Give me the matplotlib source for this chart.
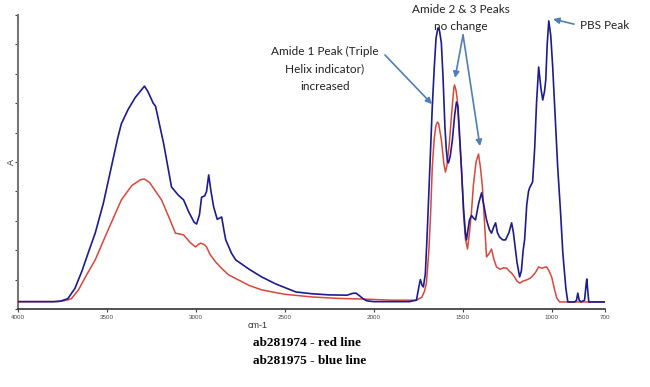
import matplotlib
matplotlib.use("Agg")
import matplotlib.pyplot as plt

# ---- data (wavenumber cm-1, absorbance normalized) ----
blue_x = [4000, 3800, 3760, 3720, 3680, 3640, 3600, 3566, 3520, 3480, 3440, 3419, 3380, 3340,
          3300, 3289, 3270, 3240, 3227, 3182, 3137, 3100, 3069, 3040, 3010, 2996, 2980, 2968,
          2950, 2940, 2928, 2915, 2900, 2880, 2865, 2855, 2840, 2832, 2800, 2776, 2700, 2630,
          2550, 2438, 2350, 2252, 2150, 2120, 2100, 2080, 2060, 2040, 2000, 1800, 1760, 1745,
          1738, 1728, 1721, 1710, 1700, 1690, 1680, 1671, 1660, 1650, 1640, 1637, 1630, 1620,
          1610, 1600, 1592, 1585, 1580, 1570, 1558, 1545, 1535, 1527, 1518, 1505, 1495, 1485,
          1479, 1470, 1462, 1450, 1440, 1428, 1410, 1394, 1380, 1366, 1350, 1338, 1325, 1315,
          1305, 1293, 1275, 1259, 1240, 1225, 1215, 1208, 1195, 1180, 1170, 1160, 1152, 1140,
          1130, 1124, 1107, 1095, 1085, 1073, 1060, 1050, 1040, 1033, 1025, 1016, 1005, 994,
          980, 966, 950, 937, 920, 909, 870, 860, 853, 845, 835, 815, 805, 802, 798, 791, 700]
blue_y = [0.025, 0.025, 0.027, 0.035, 0.07, 0.13, 0.20, 0.258, 0.36, 0.47, 0.58, 0.63, 0.68, 0.72,
          0.75, 0.758, 0.74, 0.70, 0.69, 0.565, 0.415, 0.388, 0.371, 0.33, 0.295, 0.289, 0.32, 0.38,
          0.385, 0.40, 0.456, 0.40, 0.347, 0.305, 0.31, 0.313, 0.26, 0.235, 0.19, 0.167, 0.135, 0.109,
          0.085, 0.058, 0.052, 0.048, 0.047, 0.053, 0.054, 0.045, 0.035, 0.028, 0.025, 0.025, 0.03, 0.08,
          0.10, 0.08, 0.075, 0.12, 0.25, 0.40, 0.55, 0.687, 0.82, 0.92, 0.955, 0.956, 0.945, 0.905,
          0.78, 0.62, 0.541, 0.50, 0.497, 0.52, 0.575, 0.66, 0.704, 0.69, 0.599, 0.45, 0.34, 0.26,
          0.235, 0.27, 0.303, 0.318, 0.31, 0.303, 0.36, 0.395, 0.35, 0.303, 0.27, 0.258, 0.28, 0.293,
          0.26, 0.245, 0.235, 0.235, 0.26, 0.293, 0.26, 0.224, 0.16, 0.109, 0.13, 0.20, 0.235, 0.354,
          0.40, 0.412, 0.432, 0.55, 0.70, 0.823, 0.75, 0.711, 0.74, 0.779, 0.90, 0.980, 0.93, 0.823,
          0.65, 0.483, 0.33, 0.19, 0.07, 0.024, 0.024, 0.03, 0.054, 0.03, 0.024, 0.03, 0.09, 0.102, 0.07, 0.024, 0.024]

red_x = [4000, 3780, 3740, 3700, 3660, 3620, 3566, 3500, 3419, 3360, 3310, 3289, 3260, 3193,
         3150, 3115, 3090, 3069, 3030, 3002, 2985, 2974, 2955, 2940, 2920, 2889, 2850, 2816,
         2700, 2630, 2500, 2347, 2200, 2065, 1900, 1760, 1730, 1715, 1704, 1690, 1680, 1671,
         1660, 1650, 1642, 1635, 1620, 1605, 1597, 1588, 1575, 1560, 1550, 1546, 1538, 1530,
         1520, 1507, 1495, 1485, 1473, 1462, 1451, 1440, 1425, 1411, 1400, 1389, 1378, 1366,
         1350, 1338, 1325, 1310, 1290, 1270, 1253, 1240, 1225, 1210, 1195, 1180, 1160, 1140,
         1120, 1107, 1090, 1073, 1060, 1050, 1040, 1028, 1015, 1000, 985, 971, 955, 700]
red_y = [0.025, 0.025, 0.028, 0.035, 0.065, 0.11, 0.167, 0.26, 0.371, 0.42, 0.44, 0.442, 0.43, 0.371,
         0.31, 0.258, 0.255, 0.252, 0.225, 0.211, 0.22, 0.224, 0.22, 0.211, 0.185, 0.160, 0.135, 0.116,
         0.08, 0.065, 0.05, 0.041, 0.036, 0.034, 0.03, 0.03, 0.04, 0.06, 0.088, 0.20, 0.33, 0.483,
         0.58, 0.625, 0.636, 0.63, 0.575, 0.49, 0.466, 0.49, 0.565, 0.68, 0.75, 0.762, 0.745, 0.711,
         0.60, 0.483, 0.32, 0.24, 0.204, 0.26, 0.327, 0.42, 0.50, 0.527, 0.48, 0.415, 0.30, 0.177,
         0.19, 0.204, 0.17, 0.143, 0.135, 0.14, 0.139, 0.13, 0.122, 0.11, 0.095, 0.088, 0.095, 0.099,
         0.105, 0.112, 0.125, 0.143, 0.14, 0.139, 0.142, 0.143, 0.13, 0.109, 0.07, 0.037, 0.024, 0.024]

x_ticks = [4000, 3500, 3000, 2500, 2000, 1500, 1000, 700]
x_label = "cm-1"
y_label = "A"
legend_lines = ["ab281974 - red line", "ab281975 - blue line"]

W, H = 650, 387
fig = plt.figure(figsize=(W / 100, H / 100), dpi=100)
ax = fig.add_axes([18 / W, 1 - 309 / H, 587 / W, 294 / H])

ax.plot(red_x, red_y, color="#d9473c", lw=1.1, zorder=2)
ax.plot(blue_x, blue_y, color="#1c1c8e", lw=1.2, zorder=3)

ax.set_xlim(4000, 700)
ax.set_ylim(0, 1)
ax.set_xticks(x_ticks)
ax.set_xticklabels([str(t) for t in x_ticks], fontsize=4.5, color="#444444",
                   family="Liberation Sans")
ax.set_yticks([i / 10 for i in range(11)])
ax.set_yticklabels([])
ax.tick_params(axis="both", length=2, width=0.8, color="#444444", pad=2)
for s in ["top", "right"]:
    ax.spines[s].set_visible(False)
ax.spines["left"].set_color("#777777")
ax.spines["left"].set_linewidth(1.5)
ax.spines["bottom"].set_color("#333333")
ax.spines["bottom"].set_linewidth(1.2)

fig.text(258 / W, 1 - 325 / H, x_label, fontsize=6.5, ha="center", va="center",
         family="Liberation Sans", color="#333333")
fig.text(11 / W, 1 - 162 / H, y_label, fontsize=6.5, ha="center", va="center",
         rotation=90, family="Liberation Sans", color="#333333")

arrow_c = "#4f7fb8"
aprops = dict(arrowstyle="-|>", color=arrow_c, lw=1.2, mutation_scale=9, shrinkA=0, shrinkB=0)
tfont = dict(fontsize=8.5, family="Lato", color="#222222", ha="center", va="center")

ax.text(2274, 0.816, "Amide 1 Peak (Triple\nHelix indicator)\nincreased", linespacing=1.7, **tfont)
ax.annotate("", xy=(1673, 0.697), xytext=(1937, 0.864), arrowprops=aprops, annotation_clip=False)

ax.text(1510, 0.99, "Amide 2 & 3 Peaks\nno change", linespacing=1.7, clip_on=False, **tfont)
ax.annotate("", xy=(1543, 0.786), xytext=(1498, 0.932), arrowprops=aprops, annotation_clip=False)
ax.annotate("", xy=(1403, 0.554), xytext=(1498, 0.932), arrowprops=aprops, annotation_clip=False)

ax.text(700, 0.963, "PBS Peak", clip_on=False, **tfont)
ax.annotate("", xy=(992, 0.986), xytext=(874, 0.969), arrowprops=aprops, annotation_clip=False)

fig.text(253 / W, 1 - 343 / H, legend_lines[0], fontsize=9.5, fontweight="bold",
         family="Liberation Serif", ha="left", va="center")
fig.text(253 / W, 1 - 361 / H, legend_lines[1], fontsize=9.5, fontweight="bold",
         family="Liberation Serif", ha="left", va="center")

fig.savefig("out.png", dpi=100)
